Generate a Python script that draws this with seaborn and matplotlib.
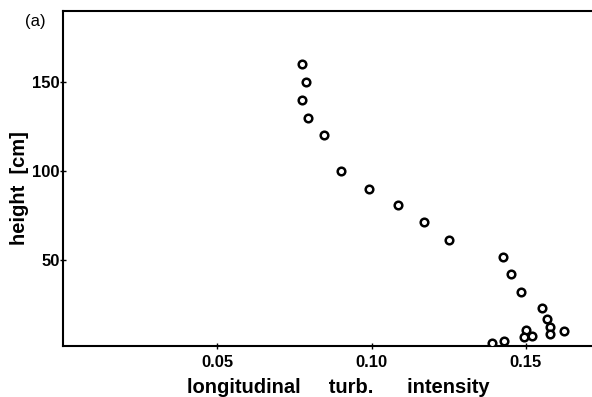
import matplotlib
matplotlib.use("Agg")
import matplotlib.pyplot as plt
import seaborn as sns
import pandas as pd

intensity = [0.0773, 0.0786, 0.0773, 0.0793, 0.0847, 0.0902, 0.0993, 0.1085, 0.1170, 0.1252,
             0.1426, 0.1452, 0.1483, 0.1551, 0.1568, 0.1578, 0.1578, 0.1624, 0.1500, 0.1493,
             0.1521, 0.1391, 0.1428]
height = [160, 150, 140, 130, 120.5, 100, 90, 81, 71.5, 61.5,
          52, 42, 32, 23, 17, 12.5, 8.5, 10.3, 10.7, 7, 7.5, 3.5, 4.5]
xticks = [0.05, 0.10, 0.15]
xticklabels = ["0.05", "0.10", "0.15"]
yticks = [50, 100, 150]

df = pd.DataFrame({"intensity": intensity, "height": height})

sns.set_style("white")
plt.rcParams['font.family'] = ['Liberation Sans', 'DejaVu Sans']

fig = plt.figure(figsize=(5.92, 3.97), dpi=100)
ax = fig.add_axes([0.1064, 0.1285, 0.8936, 0.8438])

sns.scatterplot(data=df, x="intensity", y="height", ax=ax, s=30, marker="o",
                facecolor="white", edgecolor="black", linewidth=1.8, zorder=3)

ax.set_xlim(0.0, 0.1714)
ax.set_ylim(1.7, 190)
ax.set_xticks(xticks)
ax.set_xticklabels(xticklabels)
ax.set_yticks(yticks)
for lab in ax.get_xticklabels() + ax.get_yticklabels():
    lab.set_fontweight("bold")
    lab.set_fontsize(12)
    lab.set_color("black")
ax.tick_params(axis="both", direction="inout", length=5, width=1, color="black",
               bottom=True, left=True, top=False, right=False)
ax.tick_params(axis="x", pad=4)
ax.tick_params(axis="y", pad=0)

for side in ["left", "top", "bottom"]:
    ax.spines[side].set_visible(True)
    ax.spines[side].set_color("black")
    ax.spines[side].set_linewidth(1.5)
ax.spines["right"].set_visible(False)

ax.set_xlabel("longitudinal     turb.      intensity", fontsize=14.5, fontweight="bold",
              color="black")
ax.xaxis.set_label_coords(0.52, -0.095)
ax.set_ylabel("height  [cm]", fontsize=14.5, fontweight="bold", color="black")
ax.yaxis.set_label_coords(-0.064, 0.47)
fig.text(0.042, 0.947, "(a)", fontsize=12, ha="left", va="center", color="black")

fig.savefig("out.png", dpi=100, facecolor="white")
